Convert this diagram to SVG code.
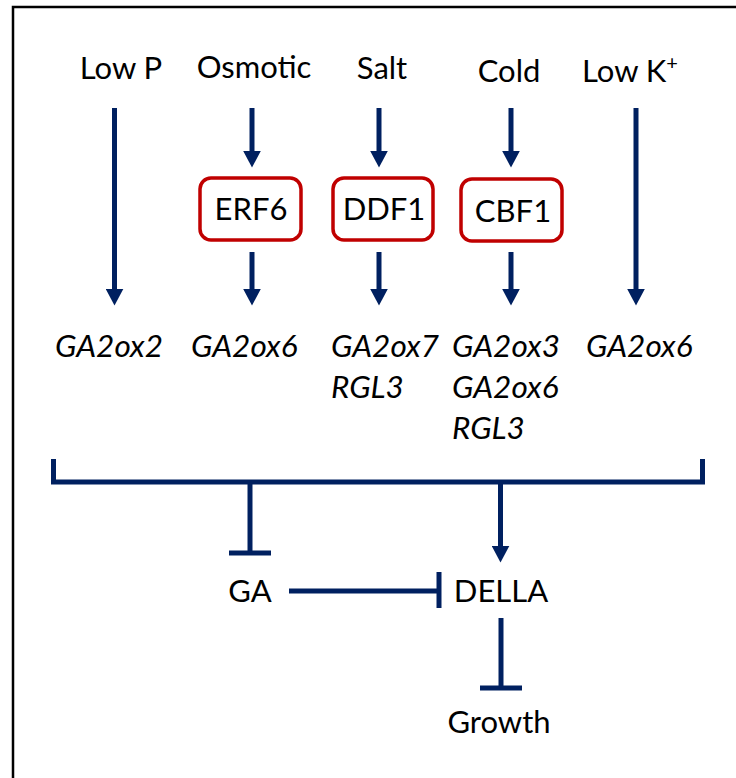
<svg xmlns="http://www.w3.org/2000/svg" width="736" height="778" viewBox="0 0 736 778">
<style>
text{font-family:Lato,"Open Sans","Liberation Sans",sans-serif;fill:#000;text-anchor:middle}
.lab{font-size:31px}
.gene{font-size:31.5px;font-style:italic;text-anchor:start}
.ln{stroke:#002060;stroke-width:5;fill:none}
.box{fill:#fff;stroke:#C00000;stroke-width:3.5}
</style>
<defs>
<marker id="ah" markerUnits="userSpaceOnUse" markerWidth="18" markerHeight="18" refX="6" refY="8.5" orient="auto" viewBox="0 0 17 17">
<path d="M0,0 L16,8.5 L0,17 z" fill="#002060"/>
</marker>
</defs>
<rect width="736" height="778" fill="#fff"/>
<path d="M13,778 V7 H736" fill="none" stroke="#000" stroke-width="2.5"/>

<g id="lowP"><text class="lab" x="121" y="79">Low P</text></g>
<g id="osmotic"><text class="lab" x="254" y="78">Osmotic</text></g>
<g id="salt"><text class="lab" x="382" y="79">Salt</text></g>
<g id="cold"><text class="lab" x="509" y="82">Cold</text></g>
<g id="lowK"><text class="lab" x="630" y="82">Low K<tspan font-size="20" dy="-12">+</tspan></text></g>

<g id="erf6"><rect class="box" x="200" y="178" width="101" height="62" rx="11"/><text class="lab" x="251" y="220">ERF6</text></g>
<g id="ddf1"><rect class="box" x="333" y="178" width="100" height="62" rx="11"/><text class="lab" x="384" y="220">DDF1</text></g>
<g id="cbf1"><rect class="box" x="461" y="179" width="101" height="62" rx="11"/><text class="lab" x="513" y="222">CBF1</text></g>

<g id="genes1"><text class="gene" x="55" y="357">GA2ox2</text></g>
<g id="genes2"><text class="gene" x="191" y="357">GA2ox6</text></g>
<g id="genes3"><text class="gene" x="331" y="357">GA2ox7</text><text class="gene" x="331" y="398">RGL3</text></g>
<g id="genes4"><text class="gene" x="452" y="357">GA2ox3</text><text class="gene" x="452" y="398">GA2ox6</text><text class="gene" x="452" y="439">RGL3</text></g>
<g id="genes5"><text class="gene" x="586" y="357">GA2ox6</text></g>

<g id="ga"><text class="lab" x="250" y="602">GA</text></g>
<g id="della"><text class="lab" x="501" y="602">DELLA</text></g>
<g id="growth"><text class="lab" x="499" y="733">Growth</text></g>

<g id="connectors">
<line class="ln" x1="114.5" y1="108" x2="114.5" y2="295" marker-end="url(#ah)"/>
<line class="ln" x1="252" y1="108" x2="252" y2="157" marker-end="url(#ah)"/>
<line class="ln" x1="379" y1="108" x2="379" y2="157" marker-end="url(#ah)"/>
<line class="ln" x1="511" y1="108" x2="511" y2="157" marker-end="url(#ah)"/>
<line class="ln" x1="636" y1="108" x2="636" y2="295" marker-end="url(#ah)"/>
<line class="ln" x1="252" y1="252" x2="252" y2="295" marker-end="url(#ah)"/>
<line class="ln" x1="379" y1="252" x2="379" y2="295" marker-end="url(#ah)"/>
<line class="ln" x1="511" y1="252" x2="511" y2="295" marker-end="url(#ah)"/>
<path class="ln" d="M53.5,459 V482 H702.5 V459"/>
<line class="ln" x1="250" y1="482" x2="250" y2="553"/>
<line class="ln" x1="229" y1="553" x2="271" y2="553"/>
<line class="ln" x1="500.5" y1="482" x2="500.5" y2="552" marker-end="url(#ah)"/>
<line class="ln" x1="289" y1="591" x2="439" y2="591"/>
<line class="ln" x1="439" y1="572" x2="439" y2="608"/>
<line class="ln" x1="501" y1="618" x2="501" y2="688"/>
<line class="ln" x1="480" y1="688" x2="522" y2="688"/>
</g>
</svg>
